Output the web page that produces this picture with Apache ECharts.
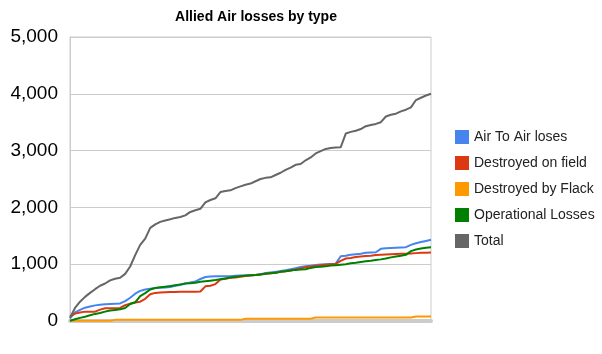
<!DOCTYPE html>
<html>
<head>
<meta charset="utf-8">
<script src="https://cdn.jsdelivr.net/npm/echarts@6/dist/echarts.min.js"></script>
<style>html,body{margin:0;padding:0;background:#fff}#c{width:602px;height:354px}</style>
</head>
<body>
<div id="c"></div>
<script>
var title = 'Allied Air losses by type';
var seriesNames = ['Air To Air loses', 'Destroyed on field', 'Destroyed by Flack', 'Operational Losses', 'Total'];
var yTicks = [0, 1000, 2000, 3000, 4000, 5000];

var airToAir = [45,150,195,235,255,275,285,295,300,305,310,350,410,480,530,555,570,580,585,590,600,620,635,660,680,695,740,775,785,790,790,790,790,795,800,800,805,810,825,845,855,865,880,895,910,930,950,965,975,985,995,1000,1005,1010,1140,1150,1165,1175,1185,1200,1205,1210,1270,1280,1285,1290,1295,1300,1340,1370,1390,1410,1430];
var onField = [80,130,150,165,165,165,200,225,225,225,230,280,305,325,340,390,470,495,500,505,510,510,515,515,515,515,520,610,620,650,730,745,760,765,780,790,800,810,820,830,840,850,865,875,890,905,925,945,960,970,980,990,1000,1005,1060,1100,1110,1125,1135,1145,1150,1160,1165,1170,1175,1180,1185,1185,1190,1195,1200,1200,1205];
var byFlack = [5,5,5,5,5,5,5,5,5,20,20,20,20,20,20,20,20,20,20,20,20,20,20,20,20,20,20,20,20,20,20,20,20,20,20,40,40,40,40,40,40,40,40,40,40,40,40,40,40,60,60,60,60,60,60,60,60,60,60,60,60,60,60,60,60,60,60,60,60,80,80,80,80];
var operational = [5,30,55,75,100,125,140,165,185,195,205,230,300,330,440,490,555,580,595,605,615,630,645,660,665,675,690,700,710,720,735,750,765,780,790,800,805,810,820,830,840,850,865,875,890,900,905,910,935,950,955,965,975,980,990,1000,1015,1025,1040,1050,1060,1075,1085,1100,1120,1135,1150,1165,1230,1260,1275,1290,1300];
var total = [60,230,340,425,495,560,620,660,715,745,760,830,960,1160,1340,1450,1640,1700,1745,1770,1790,1815,1830,1860,1920,1950,1975,2090,2130,2160,2270,2290,2300,2340,2370,2400,2420,2460,2500,2520,2530,2570,2610,2660,2700,2750,2765,2830,2880,2950,2990,3030,3045,3055,3060,3300,3330,3350,3380,3430,3450,3470,3500,3600,3630,3650,3690,3720,3760,3890,3930,3970,4000];
var days = total.map(function (_, i) { return String(i + 1); });

var colors = ['#4684ee', '#dc3912', '#ff9900', '#008000', '#666666'];
var values = [airToAir, onField, byFlack, operational, total];

var chart = echarts.init(document.getElementById('c'), null, {renderer: 'canvas'});
chart.setOption({
  animation: false,
  color: colors,
  title: {
    text: title, left: 251, top: 5, textAlign: 'center',
    textStyle: {fontFamily: 'Liberation Sans, Arial, sans-serif', fontSize: 14, fontWeight: 'bold', color: '#000'}
  },
  legend: {
    orient: 'vertical', left: 455, top: 130, padding: 0,
    icon: 'rect', itemWidth: 14, itemHeight: 14, itemGap: 12,
    textStyle: {fontFamily: 'Liberation Sans, Arial, sans-serif', fontSize: 14, color: '#222'},
    data: seriesNames
  },
  grid: {left: 70, right: 171, top: 37, bottom: 33, show: true, borderColor: '#cccccc', borderWidth: 1},
  xAxis: {
    type: 'category', data: days, boundaryGap: false, offset: 2,
    axisLine: {show: true, lineStyle: {color: '#cccccc', width: 4}},
    axisTick: {show: false}, axisLabel: {show: false}, splitLine: {show: false}
  },
  yAxis: {
    type: 'value', min: yTicks[0], max: yTicks[yTicks.length - 1], interval: 1000,
    axisLine: {show: true, lineStyle: {color: '#cccccc'}},
    axisTick: {show: false},
    axisLabel: {
      fontFamily: 'Liberation Sans, Arial, sans-serif', fontSize: 19, color: '#000', margin: 12,
      formatter: function (v) { return v.toLocaleString('en-US'); }
    },
    splitLine: {lineStyle: {color: '#cccccc'}}
  },
  series: seriesNames.map(function (n, k) {
    return {
      name: n, type: 'line', data: values[k], showSymbol: false, symbol: 'none',
      lineStyle: {width: 2, color: colors[k]}, itemStyle: {color: colors[k]}
    };
  })
});
</script>
</body>
</html>
